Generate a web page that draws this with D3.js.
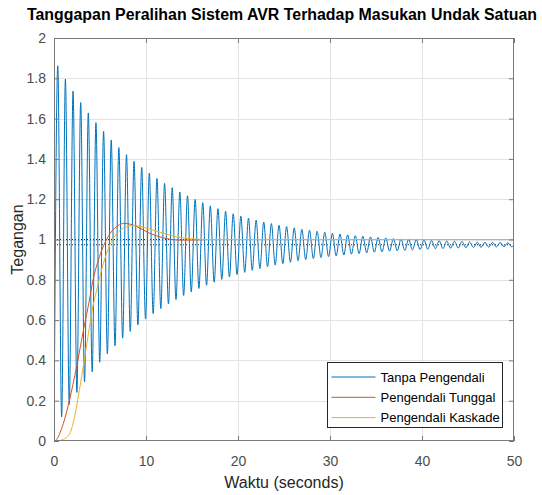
<!DOCTYPE html>
<html>
<head>
<meta charset="utf-8">
<script src="https://cdn.jsdelivr.net/npm/d3@7"></script>
<style>
  html, body { margin: 0; padding: 0; background: #ffffff; }
  svg { display: block; font-family: "Liberation Sans", Arial, Helvetica, sans-serif; }
</style>
</head>
<body>
<svg id="chart" width="542" height="495"></svg>
<script>
// Step response of the AVR loop: uncontrolled, single controller, cascade controller.
const titleText = "Tanggapan Peralihan Sistem AVR Terhadap Masukan Undak Satuan";
const xLabelText = "Waktu (seconds)";
const yLabelText = "Tegangan";
const seriesNames = ["Tanpa Pengendali", "Pengendali Tunggal", "Pengendali Kaskade"];
const seriesColors = ["#0072BD", "#D95319", "#EDB120"];

const xTicks = [0, 10, 20, 30, 40, 50];
const yTicks = [0, 0.2, 0.4, 0.6, 0.8, 1, 1.2, 1.4, 1.6, 1.8, 2];
const steadyLevels = [1.0, 0.974];

// Uncontrolled response: successive peaks and troughs (seconds, volts p.u.)
const tanpaTime = [0, 0.41, 0.83, 1.24, 1.66, 2.07, 2.49, 2.90, 3.32, 3.73, 4.15, 4.56, 4.97, 5.39, 5.80, 6.22, 6.63, 7.05, 7.46, 7.88, 8.29, 8.70, 9.12, 9.53, 9.95, 10.36, 10.78, 11.19, 11.61, 12.02, 12.44, 12.85, 13.26, 13.68, 14.09, 14.51, 14.92, 15.34, 15.75, 16.17, 16.58, 16.99, 17.41, 17.82, 18.24, 18.65, 19.07, 19.48, 19.90, 20.31, 20.73, 21.14, 21.55, 21.97, 22.38, 22.80, 23.21, 23.63, 24.04, 24.46, 24.87, 25.28, 25.70, 26.11, 26.53, 26.94, 27.36, 27.77, 28.19, 28.60, 29.02, 29.43, 29.84, 30.26, 30.67, 31.09, 31.50, 31.92, 32.33, 32.75, 33.16, 33.57, 33.99, 34.40, 34.82, 35.23, 35.65, 36.06, 36.48, 36.89, 37.31, 37.72, 38.13, 38.55, 38.96, 39.38, 39.79, 40.21, 40.62, 41.04, 41.45, 41.86, 42.28, 42.69, 43.11, 43.52, 43.94, 44.35, 44.77, 45.18, 45.60, 46.01, 46.42, 46.84, 47.25, 47.67, 48.08, 48.50, 48.91, 49.33, 49.74, 50];
const tanpaValue = [0, 1.862, 0.120, 1.796, 0.182, 1.736, 0.241, 1.680, 0.294, 1.628, 0.344, 1.580, 0.391, 1.536, 0.433, 1.494, 0.473, 1.456, 0.510, 1.421, 0.544, 1.388, 0.576, 1.358, 0.605, 1.330, 0.632, 1.303, 0.657, 1.279, 0.680, 1.257, 0.702, 1.236, 0.722, 1.217, 0.740, 1.199, 0.757, 1.183, 0.773, 1.167, 0.788, 1.153, 0.802, 1.140, 0.814, 1.128, 0.826, 1.116, 0.837, 1.106, 0.847, 1.096, 0.856, 1.087, 0.865, 1.079, 0.873, 1.071, 0.880, 1.064, 0.887, 1.058, 0.894, 1.051, 0.900, 1.046, 0.905, 1.041, 0.910, 1.036, 0.915, 1.031, 0.919, 1.027, 0.923, 1.023, 0.927, 1.019, 0.930, 1.016, 0.934, 1.013, 0.937, 1.010, 0.939, 1.008, 0.942, 1.005, 0.944, 1.003, 0.946, 1.001, 0.948, 0.999, 0.950, 0.997, 0.952, 0.995, 0.954, 0.994, 0.955, 0.992, 0.957, 0.991, 0.958, 0.990, 0.959, 0.988, 0.960, 0.987, 0.961, 0.986, 0.962, 0.986, 0.963, 0.985, 0.964, 0.984, 0.964, 0.972];

// Single-controller response
const tunggalTime = [0, 0.3, 0.65, 1.0, 1.67, 2.46, 3.2, 3.85, 4.2, 4.7, 5.18, 5.6, 6.1, 7.0, 7.6, 8.3, 9.0, 10.4, 11.9, 13.0, 14.0, 15.5, 17.0, 20.0, 50.0];
const tunggalValue = [0, 0.008, 0.04, 0.085, 0.20, 0.37, 0.55, 0.70, 0.79, 0.88, 0.945, 0.99, 1.03, 1.07, 1.08, 1.076, 1.064, 1.031, 1.008, 0.999, 0.997, 0.998, 1.0, 1.0, 1.0];

// Cascade-controller response
const kaskadeTime = [0, 0.5, 1.0, 1.74, 2.28, 2.64, 3.18, 3.73, 4.2, 4.64, 5.36, 6.09, 7.0, 7.9, 8.6, 9.3, 10.4, 11.9, 13.3, 14.8, 16.6, 20.0, 50.0];
const kaskadeValue = [0, 0.001, 0.008, 0.04, 0.13, 0.22, 0.37, 0.53, 0.66, 0.75, 0.88, 0.975, 1.038, 1.063, 1.069, 1.066, 1.052, 1.031, 1.014, 1.004, 1.0, 1.0, 1.0];

const svg = d3.select("#chart");
const plot = { left: 54, right: 514, top: 38, bottom: 441 };

const x = d3.scaleLinear().domain([0, 50]).range([plot.left, plot.right]);
const y = d3.scaleLinear().domain([0, 2]).range([plot.bottom, plot.top]);

const axisGray = "#4d4d4d";
const boxGray = "#7a7a7a";

// background
svg.append("rect").attr("x", 0).attr("y", 0).attr("width", 542).attr("height", 495).attr("fill", "#ffffff");

// grid
const grid = svg.append("g").attr("stroke", "#e3e3e3").attr("stroke-width", 1);
xTicks.slice(1, -1).forEach(t => {
  grid.append("line").attr("x1", Math.round(x(t)) + 0.5).attr("x2", Math.round(x(t)) + 0.5)
    .attr("y1", plot.top).attr("y2", plot.bottom);
});
yTicks.slice(1, -1).forEach(t => {
  grid.append("line").attr("y1", Math.round(y(t)) + 0.5).attr("y2", Math.round(y(t)) + 0.5)
    .attr("x1", plot.left).attr("x2", plot.right);
});

// clip
svg.append("clipPath").attr("id", "plotClip").append("rect")
  .attr("x", plot.left).attr("y", plot.top)
  .attr("width", plot.right - plot.left).attr("height", plot.bottom - plot.top);

// steady-state reference lines
const refs = svg.append("g");
steadyLevels.forEach(v => {
  refs.append("line")
    .attr("x1", plot.left).attr("x2", plot.right)
    .attr("y1", y(v)).attr("y2", y(v))
    .attr("stroke", "#262626").attr("stroke-width", 1)
    .attr("stroke-dasharray", "1,2");
});

// response curves
const seriesData = [
  tanpaTime.map((t, i) => [t, tanpaValue[i]]),
  tunggalTime.map((t, i) => [t, tunggalValue[i]]),
  kaskadeTime.map((t, i) => [t, kaskadeValue[i]])
];
const line = d3.line().x(d => x(d[0])).y(d => y(d[1])).curve(d3.curveMonotoneX);
const curves = svg.append("g").attr("clip-path", "url(#plotClip)");
seriesData.forEach((data, i) => {
  curves.append("path")
    .datum(data)
    .attr("d", line)
    .attr("fill", "none")
    .attr("stroke", seriesColors[i])
    .attr("stroke-width", 1);
});

// axes with inward ticks on all four sides
const tickLen = 5;
const xAxisB = d3.axisBottom(x).tickValues(xTicks).tickSize(-tickLen).tickPadding(15).tickFormat(d3.format("d"));
const xAxisT = d3.axisTop(x).tickValues(xTicks).tickSize(-tickLen).tickFormat("");
const yAxisL = d3.axisLeft(y).tickValues(yTicks).tickSize(-tickLen).tickPadding(8).tickFormat(d => d3.format("")(+d.toFixed(1)));
const yAxisR = d3.axisRight(y).tickValues(yTicks).tickSize(-tickLen).tickFormat("");

function styleAxis(g) {
  g.select(".domain").remove();
  g.selectAll(".tick line").attr("stroke", boxGray).attr("stroke-width", 1);
  g.selectAll(".tick text").attr("fill", axisGray).attr("font-size", 14)
    .attr("font-family", "'Liberation Sans', Arial, Helvetica, sans-serif");
}
svg.append("g").attr("transform", `translate(0,${plot.bottom})`).call(xAxisB).call(styleAxis);
svg.append("g").attr("transform", `translate(0,${plot.top})`).call(xAxisT).call(styleAxis);
svg.append("g").attr("transform", `translate(${plot.left},0)`).call(yAxisL).call(styleAxis);
svg.append("g").attr("transform", `translate(${plot.right},0)`).call(yAxisR).call(styleAxis);

// axes box
svg.append("rect")
  .attr("x", plot.left + 0.5).attr("y", plot.top + 0.5)
  .attr("width", plot.right - plot.left - 1).attr("height", plot.bottom - plot.top - 1)
  .attr("fill", "none").attr("stroke", boxGray).attr("stroke-width", 1);

// title and labels
svg.append("text")
  .attr("x", 282).attr("y", 20)
  .attr("text-anchor", "middle")
  .attr("font-size", 16).attr("font-weight", "bold").attr("fill", "#000000")
  .attr("textLength", 510).attr("lengthAdjust", "spacingAndGlyphs")
  .text(titleText);

svg.append("text")
  .attr("x", (plot.left + plot.right) / 2).attr("y", 488)
  .attr("text-anchor", "middle")
  .attr("font-size", 16).attr("fill", "#262626")
  .text(xLabelText);

svg.append("text")
  .attr("transform", `translate(23,${(plot.top + plot.bottom) / 2}) rotate(-90)`)
  .attr("text-anchor", "middle")
  .attr("font-size", 16).attr("fill", "#262626")
  .text(yLabelText);

// legend
const legend = svg.append("g").attr("transform", "translate(327.5,362.5)");
legend.append("rect").attr("width", 175).attr("height", 65)
  .attr("fill", "#ffffff").attr("stroke", "#262626").attr("stroke-width", 1);
seriesNames.forEach((name, i) => {
  const ly = 14.5 + i * 20.3;
  legend.append("line").attr("x1", 4).attr("x2", 48).attr("y1", ly).attr("y2", ly)
    .attr("stroke", seriesColors[i]).attr("stroke-width", 1);
  legend.append("text").attr("x", 53).attr("y", ly + 4.5)
    .attr("font-size", 13).attr("fill", "#000000")
    .text(name);
});
</script>
</body>
</html>
